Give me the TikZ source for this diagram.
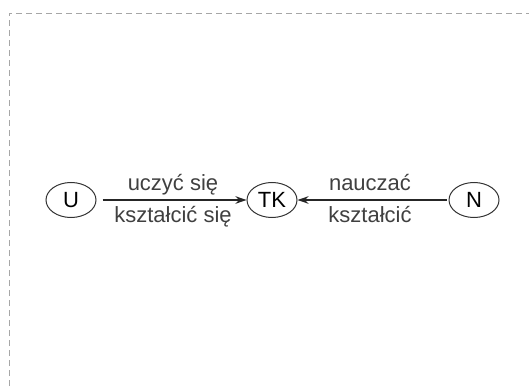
\documentclass[tikz,border=0pt]{standalone}
\usepackage{fontspec}
\setmainfont{Liberation Sans}
\usetikzlibrary{shapes.geometric,arrows.meta}
\begin{document}
\begin{tikzpicture}[x=1pt,y=1pt,>={Stealth[length=11pt,width=7.5pt]},
  stan/.style={draw=black!80,line width=1pt,ellipse,minimum width=50pt,minimum height=35pt,inner sep=1pt,font=\fontsize{22}{24}\selectfont},
  etykieta/.style={text=black!75,font=\fontsize{22}{24}\selectfont,inner sep=0pt,anchor=base},
  strzalka/.style={->,line width=1.4pt,black!85}]

  % ramka (tylko góra i lewa strona widoczne)
  \useasboundingbox (0,0) rectangle (529,386);
  \clip (0,0) rectangle (529,386);
  \draw[dashed,black!35,line width=0.9pt,dash pattern=on 6pt off 4pt] (9,-20) -- (9,373) -- (560,373);

  % stany
  \node[stan] (U) at (71,186) {U};
  \node[stan] (TK) at (272,186) {TK};
  \node[stan] (N) at (474,186) {N};

  % przejscia
  \draw[strzalka,shorten <=6pt] (U) -- (TK);
  \draw[strzalka,shorten <=2pt] (N) -- (TK);

  % opisy
  \node[etykieta] (ucz) at (173,196) {uczyć się};
  \node[etykieta] (ksz1) at (173,164) {kształcić się};
  \node[etykieta] (nau) at (370,196) {nauczać};
  \node[etykieta] (ksz2) at (370,164) {kształcić};

\end{tikzpicture}
\end{document}
